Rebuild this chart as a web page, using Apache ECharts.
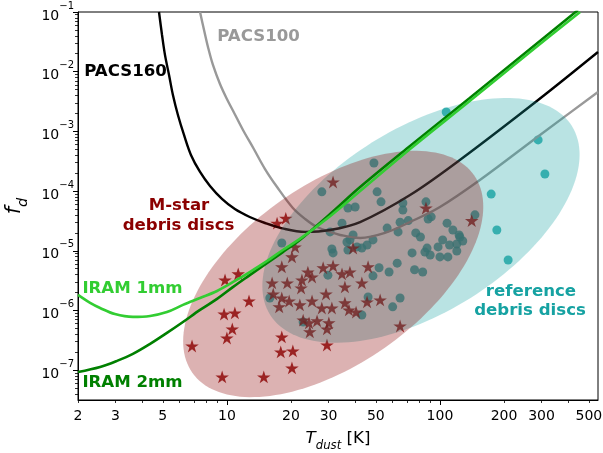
<!DOCTYPE html>
<html><head><meta charset="utf-8">
<script src="https://cdn.jsdelivr.net/npm/echarts@6/dist/echarts.min.js"></script>
<style>html,body{margin:0;padding:0;background:#fff}#c{width:603px;height:453px}</style>
</head><body><div id="c"></div>
<script>
// ---- data (T in K, f_d fractional luminosity) ----
const refT = [107,289,311,174,185,209,49,27.9,50.7,52.9,37,40,67,67,86,88,91,108,146,65,71,56.5,63.6,48.5,45.5,115,123,128,77,81,98,111,120,87,109,100,120,74,85,90,37.8,31.5,37,43,63,51.8,57.7,76,83,48.5,29.8,34.7,65,60,46,43,22.8,15.9,18.1,30.5,39.1,36.6,31.1,40.8,103,124];
const refFd = [2.11e-3,7.2e-4,1.93e-4,8.9e-5,2.23e-5,7.0e-6,2.96e-4,9.7e-5,9.7e-5,6.6e-5,5.2e-5,5.4e-5,6.3e-5,4.8e-5,6.6e-5,3.4e-5,3.7e-5,2.9e-5,4.0e-5,3.0e-5,3.2e-5,2.4e-5,2.07e-5,1.52e-5,1.25e-5,2.23e-5,1.84e-5,1.46e-5,1.99e-5,1.70e-5,1.16e-5,1.25e-5,1.30e-5,1.11e-5,7.9e-6,7.9e-6,9.9e-6,9.2e-6,9.5e-6,8.5e-6,1.52e-5,9.2e-6,1.03e-5,1.11e-5,6.2e-6,5.2e-6,4.4e-6,4.8e-6,4.4e-6,3.8e-6,3.9e-6,2.9e-5,1.62e-6,1.15e-6,1.68e-6,8.4e-7,6.4e-7,1.62e-6,1.35e-5,2.07e-5,1.84e-5,1.40e-5,1.07e-5,1.16e-5,1.52e-5,1.70e-5];

const mstarT = [9.8,11.3,12.7,9.7,10.9,10.6,10.0,6.86,9.5,14.9,18.1,17.9,20.4,20.2,17.2,18.9,31.5,86,141,20.2,18.1,16.3,19.2,16.5,18.1,19.6,17.6,20.9,24.0,22.5,25.1,22.3,28.3,31.5,34.7,37.8,35.8,29.2,25.1,22.0,27.9,31.1,35.8,37.4,40.4,22.8,24.3,26.5,30.1,29.5,24.5,29.5,39.1,43,46,45.5,52.4,65];
const mstarFd = [3.24e-6,4.1e-6,1.44e-6,8.7e-7,9.1e-7,4.9e-7,3.46e-7,2.54e-7,7.7e-8,7.7e-8,3.6e-7,2.02e-7,2.10e-7,1.09e-7,2.9e-5,3.5e-5,1.42e-4,5.2e-5,3.2e-5,7.9e-6,5.4e-6,2.89e-6,2.89e-6,1.89e-6,1.62e-6,1.44e-6,1.15e-6,1.16e-5,4.4e-6,3.24e-6,3.64e-6,2.38e-6,5.2e-6,5.6e-6,4.1e-6,4.4e-6,2.48e-6,1.89e-6,1.44e-6,1.24e-6,1.10e-6,1.10e-6,1.34e-6,1.02e-6,9.4e-7,6.9e-7,6.2e-7,6.7e-7,6.2e-7,4.9e-7,4.4e-7,2.64e-7,1.11e-5,2.89e-6,5.4e-6,1.39e-6,1.50e-6,5.5e-7];

const pacs160T = [4.80,4.96,5.12,5.35,5.58,5.89,6.29,6.78,7.48,8.33,9.48,10.9,12.8,15.1,18.7,23.3,30.5,42.2,72.4,124,289,552];
const pacs160Fd = [0.1,0.0412,0.0191,8.8e-3,4.07e-3,1.88e-3,8.7e-4,4.03e-4,2.09e-4,1.22e-4,7.4e-5,5.0e-5,3.68e-5,2.92e-5,2.32e-5,2.07e-5,2.23e-5,3.03e-5,8.6e-5,3.32e-4,3.36e-3,0.0214];

const pacs100T = [7.48,7.81,8.15,8.60,9.28,10.0,10.7,11.9,13.3,15.1,17.2,20.4,23.3,26.5,30.5,34.0,42.2,55.2,72.4,100,154,295,552];
const pacs100Fd = [0.1,0.0499,0.0259,0.01295,6.22e-3,3.49e-3,2.20e-3,1.055e-3,5.27e-4,2.34e-4,1.17e-4,5.21e-5,3.41e-5,2.5e-5,2.07e-5,1.84e-5,1.64e-5,1.99e-5,3.03e-5,5.4e-5,1.53e-4,8.7e-4,4.57e-3];

const iram1T = [2.0,2.28,2.54,2.98,3.62,4.36,5.23,6.22,7.48,8.99,10.7,12.8,15.4,18.3,22.0,30.5,42.2,72.4,138,265,455];
const iram1Fd = [1.82e-6,1.34e-6,1.10e-6,8.7e-7,7.8e-7,8.1e-7,9.4e-7,1.24e-6,1.62e-6,2.12e-6,3.0e-6,4.4e-6,6.7e-6,1.03e-5,1.58e-5,3.8e-5,1.0e-4,5.07e-4,3.23e-3,0.0214,0.1];

const iram2T = [2.0,2.54,3.05,3.62,4.36,5.23,6.22,7.48,8.99,10.7,12.8,15.4,18.3,22.0,30.5,42.2,72.4,138,265,445];
const iram2Fd = [9.3e-8,1.13e-7,1.43e-7,1.87e-7,2.75e-7,4.2e-7,6.4e-7,1.02e-6,1.56e-6,2.48e-6,3.9e-6,6.2e-6,9.5e-6,1.52e-5,4.13e-5,1.17e-4,5.7e-4,3.62e-3,0.024,0.108];

// population ellipses in log10 space: centre and two conjugate semi-axes (decades)
const mstarEllipseCentre = [1.499, -5.389];
const mstarEllipseAxes = [[0.6614, 1.653], [0.2425, -1.235]];
const refEllipseCentre = [1.911, -4.491];
const refEllipseAxes = [[0.7085, 1.580], [0.229, -1.307]];

const xTickLabels = [2,3,5,10,20,30,50,100,200,300,500];
const xMajorTicks = [10,100];
const yTickExponents = [-7,-6,-5,-4,-3,-2,-1];

// ---- helpers ----
const F = '"DejaVu Sans", sans-serif';
const L = Math.log10;
const toXY = (T, Fd) => T.map((t, i) => [L(t), L(Fd[i])]);
const xMin = L(2), xMax = 2.742, yMin = -7.5, yMax = -1;

const xMinor = [];
[1,10,100].forEach(d => { for (let k = 2; k <= 9; k++) { const v = L(k*d); if (v > xMin - 1e-9 && v < xMax && k*d !== 10 && k*d !== 100) xMinor.push(v); } });
const yMinor = [];
for (let n = -8; n <= -2; n++) for (let k = 2; k <= 9; k++) { const v = n + L(k); if (v > yMin && v < yMax) yMinor.push(v); }

function ellipseRender(centre, axes, color) {
  return function (params, api) {
    const pts = [];
    const N = 160;
    for (let i = 0; i < N; i++) {
      const t = 2 * Math.PI * i / N;
      const x = centre[0] + Math.cos(t) * axes[0][0] + Math.sin(t) * axes[1][0];
      const y = centre[1] + Math.cos(t) * axes[0][1] + Math.sin(t) * axes[1][1];
      pts.push(api.coord([x, y]));
    }
    return { type: 'polygon', shape: { points: pts }, style: { fill: color } };
  };
}

const STAR = 'path://M50,0 L61.2,34.5 L97.6,34.5 L68.2,55.9 L79.4,90.5 L50,69.1 L20.6,90.5 L31.8,55.9 L2.4,34.5 L38.8,34.5 Z';

const chart = echarts.init(document.getElementById('c'), null, { renderer: 'canvas' });

const lbl = (text, x, y, color) => ({
  type: 'text', x: x, y: y, z: 100,
  style: { text: text, fill: color, font: 'bold 16.6px ' + F, align: 'center', verticalAlign: 'middle', textAlign: 'center', textVerticalAlign: 'middle' }
});

const lineSeries = (name, T, Fd, color, width, z) => ({
  type: 'line', name: name, data: toXY(T, Fd), smooth: 0.35, symbol: 'none',
  lineStyle: { color: color, width: width }, z: z, silent: true
});

chart.setOption({
  animation: false,
  backgroundColor: '#fff',
  grid: { left: 78, right: 5, top: 12, bottom: 53, containLabel: false, outerBoundsMode: 'none',
    show: true, borderColor: '#000', borderWidth: 1, backgroundColor: 'transparent' },
  xAxis: [{
    type: 'value', min: xMin, max: xMax, position: 'bottom',
    axisLine: { show: true, onZero: false, lineStyle: { color: '#000', width: 1 } },
    axisTick: { show: true, customValues: xMajorTicks.map(L), length: 5, lineStyle: { color: '#000', width: 1 } },
    axisLabel: { customValues: xTickLabels.map(L), formatter: v => String(Math.round(Math.pow(10, v))), fontSize: 14, color: '#000', fontFamily: F, margin: 9 },
    splitLine: { show: false },
    name: '{i|T}{sub|dust}{n| [K]}', nameLocation: 'middle', nameGap: 30,
    nameTextStyle: { rich: {
      i: { fontSize: 16.7, fontStyle: 'italic', fontFamily: F, color: '#000', lineHeight: 22, verticalAlign: 'top' },
      sub: { fontSize: 11.7, fontStyle: 'italic', fontFamily: F, color: '#000', lineHeight: 14, verticalAlign: 'bottom' },
      n: { fontSize: 16.7, fontFamily: F, color: '#000', lineHeight: 22, verticalAlign: 'top' }
    } }
  }, {
    type: 'value', min: xMin, max: xMax, position: 'bottom', gridIndex: 0,
    axisLine: { show: false },
    axisTick: { show: true, customValues: xMinor, length: 3, lineStyle: { color: '#000', width: 0.8 } },
    axisLabel: { show: false }, splitLine: { show: false }
  }],
  yAxis: [{
    type: 'value', min: yMin, max: yMax, position: 'left',
    axisLine: { show: true, onZero: false, lineStyle: { color: '#000', width: 1 } },
    axisTick: { show: true, customValues: yTickExponents, length: 5, lineStyle: { color: '#000', width: 1 } },
    axisLabel: { customValues: yTickExponents, formatter: v => '{b|10}{s|\u2212' + (-v) + '}', margin: 4,
      rich: {
        b: { fontSize: 14, fontFamily: F, color: '#000', lineHeight: 22, verticalAlign: 'bottom' },
        s: { fontSize: 10, fontFamily: F, color: '#000', lineHeight: 10, verticalAlign: 'top' }
      } },
    splitLine: { show: false },
    name: '{i|f}{sub|d}', nameLocation: 'middle', nameGap: 46, nameRotate: 90,
    nameTextStyle: { rich: {
      i: { fontSize: 21, fontStyle: 'italic', fontFamily: F, color: '#000', lineHeight: 26, verticalAlign: 'top' },
      sub: { fontSize: 14.5, fontStyle: 'italic', fontFamily: F, color: '#000', lineHeight: 16, verticalAlign: 'bottom' }
    } }
  }, {
    type: 'value', min: yMin, max: yMax, position: 'left', gridIndex: 0,
    axisLine: { show: false },
    axisTick: { show: true, customValues: yMinor, length: 3, lineStyle: { color: '#000', width: 0.8 } },
    axisLabel: { show: false }, splitLine: { show: false }
  }],
  series: [
    { type: 'scatter', name: 'reference', data: toXY(refT, refFd), symbol: 'circle', symbolSize: 9,
      itemStyle: { color: '#16a2a2' }, z: 2, silent: true },
    { type: 'scatter', name: 'M-star', data: toXY(mstarT, mstarFd), symbol: STAR, symbolSize: 13.5, symbolKeepAspect: true,
      itemStyle: { color: '#8b0000' }, z: 2, silent: true },
    lineSeries('PACS100', pacs100T, pacs100Fd, '#999999', 2.4, 3),
    lineSeries('PACS160', pacs160T, pacs160Fd, '#000000', 2.4, 3),
    { type: 'custom', name: 'ref ellipse', data: [refEllipseCentre], renderItem: ellipseRender(refEllipseCentre, refEllipseAxes, 'rgba(22,162,162,0.3)'), z: 4, silent: true, clip: true },
    { type: 'custom', name: 'mstar ellipse', data: [mstarEllipseCentre], renderItem: ellipseRender(mstarEllipseCentre, mstarEllipseAxes, 'rgba(139,0,0,0.3)'), z: 5, silent: true, clip: true },
    lineSeries('IRAM 2mm', iram2T, iram2Fd, '#008000', 2.6, 6),
    lineSeries('IRAM 1mm', iram1T, iram1Fd, '#32cd32', 2.6, 6)
  ],
  graphic: [
    lbl('PACS160', 125.5, 72, '#000000'),
    lbl('PACS100', 258.5, 37, '#999999'),
    lbl('M-star', 179, 205.5, '#8b0000'),
    lbl('debris discs', 178.5, 226, '#8b0000'),
    lbl('IRAM 1mm', 132.5, 289, '#32cd32'),
    lbl('IRAM 2mm', 132.5, 382.5, '#008000'),
    lbl('reference', 531, 291.5, '#16a2a2'),
    lbl('debris discs', 530, 310.5, '#16a2a2')
  ]
});
</script>
</body></html>
